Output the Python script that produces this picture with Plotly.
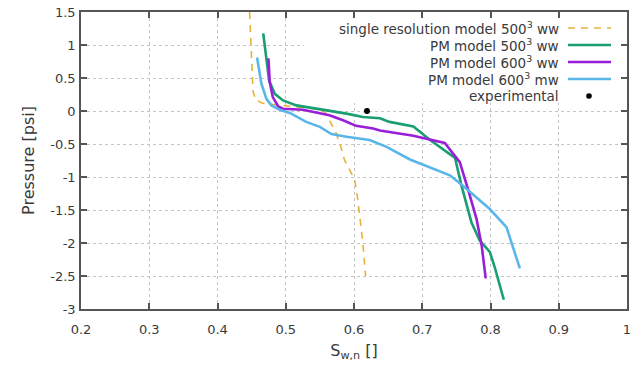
import plotly.graph_objects as go

# ---- data ----
single_x = [0.447, 0.448, 0.449, 0.450, 0.452, 0.456, 0.465, 0.480, 0.500, 0.520, 0.545, 0.558, 0.566, 0.574, 0.580, 0.586, 0.594, 0.601, 0.605, 0.608, 0.611, 0.613, 0.615, 0.617]
single_y = [1.5, 1.25, 1.0, 0.6, 0.3, 0.17, 0.12, 0.10, 0.08, 0.06, 0.03, -0.02, -0.18, -0.34, -0.52, -0.74, -0.90, -1.04, -1.30, -1.55, -1.80, -2.0, -2.25, -2.5]

pm500ww_x = [0.467, 0.471, 0.4756, 0.484, 0.496, 0.5156, 0.545, 0.564, 0.589, 0.613, 0.638, 0.652, 0.687, 0.711, 0.748, 0.7576, 0.772, 0.784, 0.799, 0.806, 0.8137, 0.8195]
pm500ww_y = [1.175, 0.80, 0.46, 0.26, 0.16, 0.085, 0.035, 0.01, -0.04, -0.09, -0.11, -0.165, -0.235, -0.435, -0.71, -1.135, -1.685, -1.96, -2.135, -2.36, -2.635, -2.86]

pm600ww_x = [0.4746, 0.4766, 0.481, 0.489, 0.496, 0.525, 0.564, 0.584, 0.603, 0.628, 0.638, 0.687, 0.733, 0.755, 0.767, 0.7795, 0.787, 0.793]
pm600ww_y = [0.80, 0.435, 0.21, 0.07, 0.035, 0.02, -0.065, -0.14, -0.225, -0.265, -0.295, -0.375, -0.485, -0.775, -1.185, -1.635, -2.035, -2.535]

pm600mw_x = [0.458, 0.4644, 0.4717, 0.479, 0.491, 0.506, 0.530, 0.550, 0.567, 0.589, 0.623, 0.647, 0.682, 0.7405, 0.760, 0.799, 0.8234, 0.843]
pm600mw_y = [0.81, 0.41, 0.185, 0.085, 0.02, -0.03, -0.165, -0.24, -0.35, -0.39, -0.44, -0.54, -0.735, -0.975, -1.135, -1.485, -1.76, -2.385]

exp_x = [0.619]
exp_y = [0.0]

x_ticks = [0.2, 0.3, 0.4, 0.5, 0.6, 0.7, 0.8, 0.9, 1.0]
x_tick_labels = ["0.2", "0.3", "0.4", "0.5", "0.6", "0.7", "0.8", "0.9", "1"]
y_ticks = [1.5, 1.0, 0.5, 0.0, -0.5, -1.0, -1.5, -2.0, -2.5, -3.0]
y_tick_labels = ["1.5", "1", "0.5", "0", "-0.5", "-1", "-1.5", "-2", "-2.5", "-3"]

legend_names = ["single resolution model 500<sup>3</sup> ww",
                "PM model 500<sup>3</sup> ww",
                "PM model 600<sup>3</sup> ww",
                "PM model 600<sup>3</sup> mw",
                "experimental"]

# ---- styles ----
C_ORANGE = "#e8b23a"
C_GREEN = "#1a9e74"
C_PURPLE = "#9a1ed8"
C_BLUE = "#5ab6e8"
FONT = "DejaVu Sans"
TXT = "#3a3a3a"
DASH = "7px,6px"

X_RANGE = [0.2, 1.0]
Y_RANGE = [-3.0, 1.5]

fig = go.Figure()
fig.add_trace(go.Scatter(x=single_x, y=single_y, mode="lines",
                         line=dict(color=C_ORANGE, width=1.6, dash=DASH), showlegend=False))
fig.add_trace(go.Scatter(x=pm500ww_x, y=pm500ww_y, mode="lines",
                         line=dict(color=C_GREEN, width=2.6), showlegend=False))
fig.add_trace(go.Scatter(x=pm600ww_x, y=pm600ww_y, mode="lines",
                         line=dict(color=C_PURPLE, width=2.6), showlegend=False))
fig.add_trace(go.Scatter(x=pm600mw_x, y=pm600mw_y, mode="lines",
                         line=dict(color=C_BLUE, width=2.6), showlegend=False))
fig.add_trace(go.Scatter(x=exp_x, y=exp_y, mode="markers",
                         marker=dict(color="black", size=6), showlegend=False))

# ---- layout geometry (body margin removed via post_script) ----
W, H = 639, 370
L, R, T, B = 81, 12, 12, 61
pw, ph = W - L - R, H - T - B

def px(xpage):
    return (xpage - L) / pw

def py(ypage):
    return 1 - (ypage - T) / ph

# ---- manual legend (text right-aligned, sample on the right, like gnuplot) ----
row_y = [28, 45, 62, 79, 96]
styles = [dict(color=C_ORANGE, width=1.6, dash=DASH),
          dict(color=C_GREEN, width=2.6),
          dict(color=C_PURPLE, width=2.6),
          dict(color=C_BLUE, width=2.6),
          None]
annotations = []
# opaque key box that hides the grid behind the legend (between grid and traces)
bx0 = X_RANGE[0] + px(304) * (X_RANGE[1] - X_RANGE[0])
by0 = Y_RANGE[0] + py(103) * (Y_RANGE[1] - Y_RANGE[0])
shapes = [dict(type="rect", xref="x", yref="y", layer="between",
               x0=bx0, x1=X_RANGE[1], y0=by0, y1=Y_RANGE[1],
               fillcolor="white", line=dict(width=0))]
for name, yy, st in zip(legend_names, row_y, styles):
    annotations.append(dict(xref="paper", yref="paper", x=px(561), y=py(yy),
                            xanchor="right", yanchor="middle", text=name, showarrow=False,
                            font=dict(family=FONT, size=13.5, color=TXT)))
    if st is not None:
        shapes.append(dict(type="line", xref="paper", yref="paper",
                           x0=px(568), x1=px(611), y0=py(yy), y1=py(yy), line=st))
    else:
        r = 2.8
        shapes.append(dict(type="circle", xref="paper", yref="paper",
                           x0=px(589 - r), x1=px(589 + r), y0=py(yy + r), y1=py(yy - r),
                           fillcolor="black", line=dict(color="black", width=0)))

axis_common = dict(showline=True, linecolor="#555555", linewidth=1.5, mirror="ticks",
                   ticks="inside", ticklen=6, tickcolor="#555555", tickwidth=1.5,
                   showgrid=True, gridcolor="#c4c4c4", griddash="dot", gridwidth=1,
                   zeroline=False, automargin=False,
                   tickfont=dict(family=FONT, size=13, color=TXT))

fig.update_layout(
    width=W, height=H,
    margin=dict(l=L, r=R, t=T, b=B),
    paper_bgcolor="white", plot_bgcolor="white",
    xaxis=dict(range=X_RANGE, tickvals=x_ticks, ticktext=x_tick_labels, ticklabelstandoff=8,
               title=dict(text="S<sub>w,n</sub> []", font=dict(family=FONT, size=16, color=TXT), standoff=8),
               **axis_common),
    yaxis=dict(range=Y_RANGE, tickvals=y_ticks, ticktext=y_tick_labels, ticklabelstandoff=1,
               title=dict(text="Pressure [psi]", font=dict(family=FONT, size=16, color=TXT), standoff=12),
               **axis_common),
    annotations=annotations,
    shapes=shapes,
    showlegend=False,
)

fig.write_html("out.html", config={"displayModeBar": False},
               post_script="document.body.style.margin='0px';document.documentElement.style.overflow='hidden';")
